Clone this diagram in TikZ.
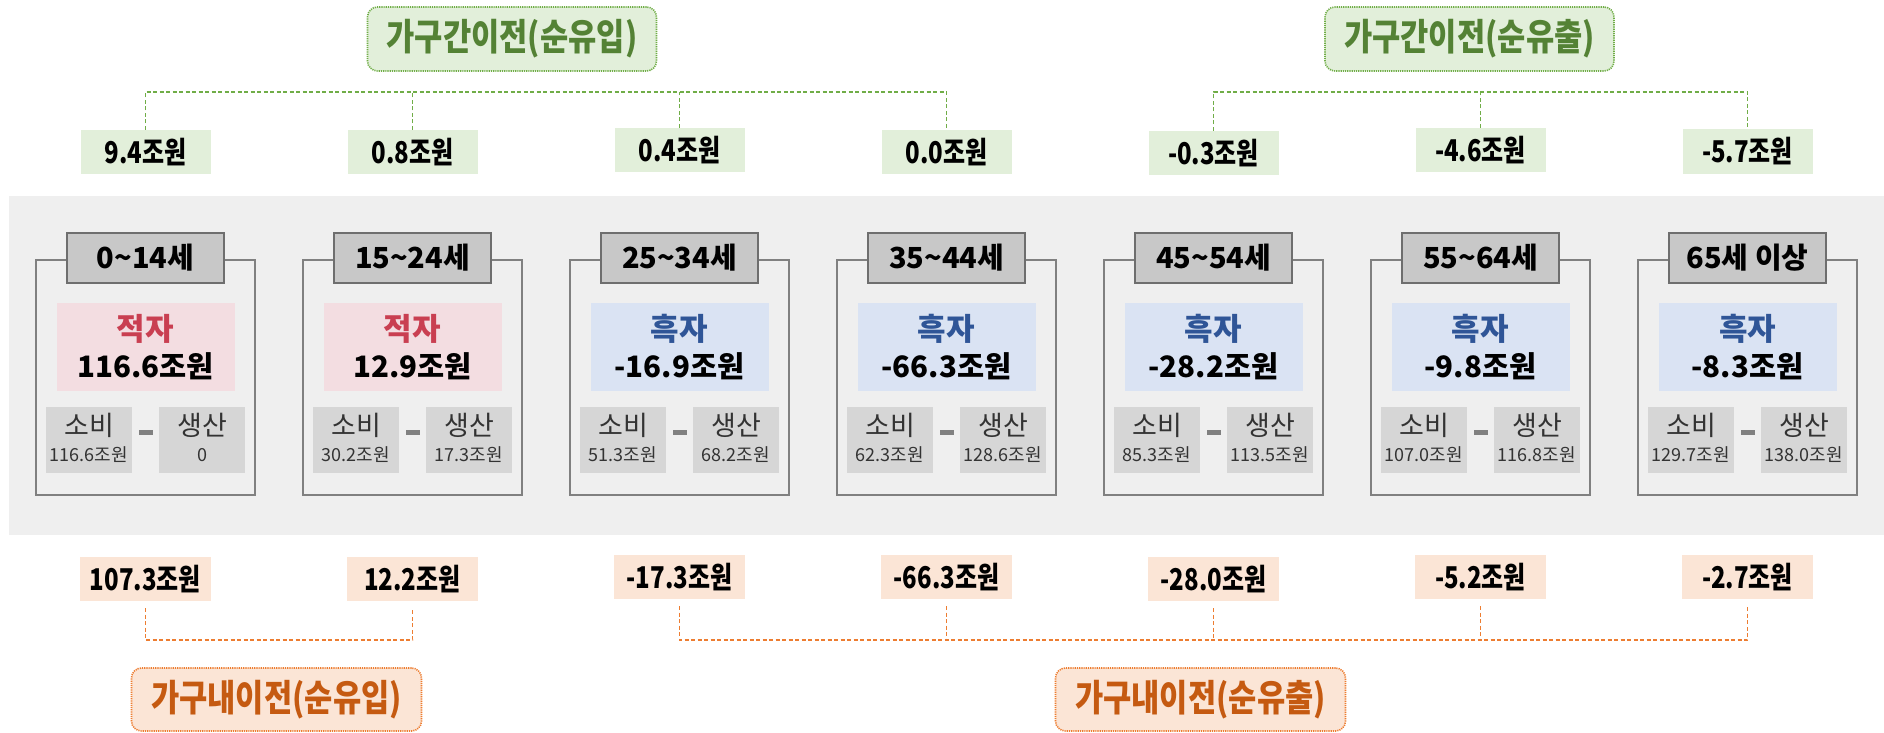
\documentclass[tikz,border=0pt]{standalone}
\usepackage{fontspec}
\setmainfont{Noto Sans CJK KR}
\newfontfamily\condfont{Noto Sans CJK KR}[FakeStretch=0.8]
\newfontfamily\labelfont{Noto Sans CJK KR}[FakeStretch=0.83]
\usetikzlibrary{calc}
\definecolor{panelgray}{HTML}{EFEFEF}
\definecolor{grfill}{HTML}{E2EFDA}
\definecolor{grline}{HTML}{70AD47}
\definecolor{grtext}{HTML}{548235}
\definecolor{orfill}{HTML}{FBE5D6}
\definecolor{orline}{HTML}{ED7D31}
\definecolor{ortext}{HTML}{C55A11}
\definecolor{pinkfill}{HTML}{F3DDE1}
\definecolor{redtext}{HTML}{C93F51}
\definecolor{bluefill}{HTML}{DAE3F3}
\definecolor{bluetext}{HTML}{2F5597}
\definecolor{hdrfill}{HTML}{C8C8C8}
\definecolor{hdrline}{HTML}{6E6E6E}
\definecolor{cardline}{HTML}{808080}
\definecolor{subfill}{HTML}{D6D6D6}
\definecolor{subtext}{HTML}{333333}

\newcommand\agecard[8]{%
  \pgfmathsetmacro\cx{145.5+267*(#1-1)}
  \node[cardbox] (card#1) at (\cx,377.5) {};
  \node[hdrbox] (hdr#1) at (\cx,258) {#2};
  \node[statbox,fill=#3] (st#1) at (\cx,347) {};
  \node[statword,text=#4] (sw#1) at (\cx,340) {#5};
  \node[statamt] (sa#1) at (\cx,377) {#6};
  \node[subbox] (cb#1) at (\cx-56.5,440) {};
  \node[subbox] (pb#1) at (\cx+56.5,440) {};
  \node[subword] (cw#1) at (\cx-56.5,435) {소비};
  \node[subword] (pw#1) at (\cx+56.5,435) {생산};
  \node[subnum] (cn#1) at (\cx-56.5,461) {#7};
  \node[subnum] (pn#1) at (\cx+56.5,461) {#8};
  \fill[cardline] (\cx-7,429.5) rectangle (\cx+7,434.5);
}

\begin{document}
\begin{tikzpicture}[x=1pt,y=-1pt,
  every node/.style={inner sep=0pt,outer sep=0pt},
  cardbox/.style={draw=cardline,line width=2pt,minimum width=219,minimum height=235},
  hdrbox/.style={draw=hdrline,fill=hdrfill,line width=2.5pt,minimum width=157,minimum height=50,
    font=\bfseries\fontsize{29}{32}\selectfont},
  statbox/.style={minimum width=178,minimum height=88},
  statword/.style={anchor=base,font=\bfseries\fontsize{31}{34}\selectfont},
  statamt/.style={anchor=base,font=\bfseries\fontsize{29.5}{33}\selectfont},
  subbox/.style={fill=subfill,minimum width=86,minimum height=66},
  subword/.style={anchor=base,text=subtext,font=\fontsize{27}{29}\selectfont},
  subnum/.style={anchor=base,text=subtext,font=\fontsize{18}{20}\selectfont},
  gval/.style={fill=grfill,minimum width=130,minimum height=44,font=\condfont\bfseries\fontsize{30}{32}\selectfont},
  oval/.style={fill=orfill,minimum width=131,minimum height=44,font=\condfont\bfseries\fontsize{30}{32}\selectfont},
  glabel/.style={fill=grfill,draw=grline,line width=1.6pt,dash pattern=on 1.2pt off 1pt,rounded corners=10pt,
    minimum width=289,minimum height=64,text=grtext,font=\labelfont\bfseries\fontsize{37}{39}\selectfont},
  olabel/.style={fill=orfill,draw=orline,line width=1.6pt,dash pattern=on 1.2pt off 1pt,rounded corners=10pt,
    minimum width=290,minimum height=63,text=ortext,font=\labelfont\bfseries\fontsize{37}{39}\selectfont},
  gdash/.style={draw=grline,line width=1.5pt,dash pattern=on 4pt off 2.5pt},
  odash/.style={draw=orline,line width=1.5pt,dash pattern=on 4pt off 2.5pt}
]
\useasboundingbox (0,0) rectangle (1884,733);
\fill[panelgray] (9,196) rectangle (1884,535);

\agecard{1}{0\textasciitilde 14세}{pinkfill}{redtext}{적자}{116.6조원}{116.6조원}{0}
\agecard{2}{15\textasciitilde 24세}{pinkfill}{redtext}{적자}{12.9조원}{30.2조원}{17.3조원}
\agecard{3}{25\textasciitilde 34세}{bluefill}{bluetext}{흑자}{-16.9조원}{51.3조원}{68.2조원}
\agecard{4}{35\textasciitilde 44세}{bluefill}{bluetext}{흑자}{-66.3조원}{62.3조원}{128.6조원}
\agecard{5}{45\textasciitilde 54세}{bluefill}{bluetext}{흑자}{-28.2조원}{85.3조원}{113.5조원}
\agecard{6}{55\textasciitilde 64세}{bluefill}{bluetext}{흑자}{-9.8조원}{107.0조원}{116.8조원}
\agecard{7}{65세 이상}{bluefill}{bluetext}{흑자}{-8.3조원}{129.7조원}{138.0조원}

% top values
\node[gval] (tv1) at (145.5,152) {9.4조원};
\node[gval] (tv2) at (412.5,152) {0.8조원};
\node[gval] (tv3) at (679.5,150) {0.4조원};
\node[gval] (tv4) at (946.5,152) {0.0조원};
\node[gval] (tv5) at (1213.5,153) {-0.3조원};
\node[gval] (tv6) at (1480.5,150) {-4.6조원};
\node[gval] (tv7) at (1747.5,151.5) {-5.7조원};

% bottom values
\node[oval] (bv1) at (145.5,579) {107.3조원};
\node[oval] (bv2) at (412.5,579) {12.2조원};
\node[oval] (bv3) at (679.5,577) {-17.3조원};
\node[oval] (bv4) at (946.5,577) {-66.3조원};
\node[oval] (bv5) at (1213.5,579) {-28.0조원};
\node[oval] (bv6) at (1480.5,577) {-5.2조원};
\node[oval] (bv7) at (1747.5,577) {-2.7조원};

% labels
\node[glabel] (gin) at (512,39) {가구간이전(순유입)};
\node[glabel] (gout) at (1469.5,39) {가구간이전(순유출)};
\node[olabel] (iin) at (276.5,699.5) {가구내이전(순유입)};
\node[olabel] (iout) at (1200.5,699.5) {가구내이전(순유출)};

% top brackets
\coordinate (tb) at (0,92);
\draw[gdash] (tv1.north) -- (tv1.north |- tb) -- (tv4.north |- tb) -- (tv4.north);
\draw[gdash] (tv2.north) -- (tv2.north |- tb);
\draw[gdash] (tv3.north) -- (tv3.north |- tb);
\draw[gdash] (tv5.north) -- (tv5.north |- tb) -- (tv7.north |- tb) -- (tv7.north);
\draw[gdash] (tv6.north) -- (tv6.north |- tb);

% bottom brackets
\coordinate (bb) at (0,640);
\draw[odash] ($(bv1.south)+(0,7)$) -- (bv1.south |- bb) -- (bv2.south |- bb) -- ($(bv2.south)+(0,7)$);
\draw[odash] ($(bv3.south)+(0,7)$) -- (bv3.south |- bb) -- (bv7.south |- bb) -- ($(bv7.south)+(0,7)$);
\draw[odash] ($(bv4.south)+(0,7)$) -- (bv4.south |- bb);
\draw[odash] ($(bv5.south)+(0,7)$) -- (bv5.south |- bb);
\draw[odash] ($(bv6.south)+(0,7)$) -- (bv6.south |- bb);
\end{tikzpicture}
\end{document}
